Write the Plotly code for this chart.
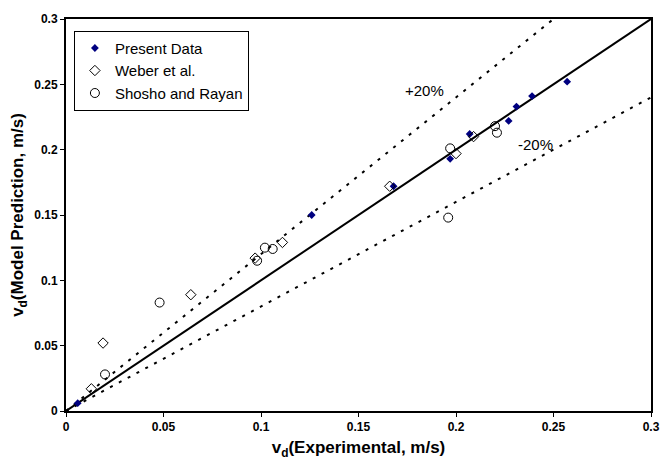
import plotly.graph_objects as go

present_x = [0.006, 0.126, 0.168, 0.197, 0.207, 0.227, 0.231, 0.239, 0.257]
present_y = [0.006, 0.150, 0.172, 0.193, 0.212, 0.222, 0.233, 0.241, 0.252]

weber_x = [0.013, 0.019, 0.064, 0.097, 0.111, 0.166, 0.200, 0.209]
weber_y = [0.017, 0.052, 0.089, 0.117, 0.129, 0.172, 0.197, 0.210]

shosho_x = [0.020, 0.048, 0.098, 0.102, 0.106, 0.197, 0.196, 0.220, 0.221]
shosho_y = [0.028, 0.083, 0.115, 0.125, 0.124, 0.201, 0.148, 0.218, 0.213]

line_x = [0.0, 0.3]
line_y = [0.0, 0.3]
plus_x = [0.0, 0.25]
plus_y = [0.0, 0.30]
minus_x = [0.0, 0.3]
minus_y = [0.0, 0.24]

ticks = [0, 0.05, 0.1, 0.15, 0.2, 0.25, 0.3]
tick_text = ["0", "0.05", "0.1", "0.15", "0.2", "0.25", "0.3"]

FONT = "Arial, Liberation Sans, sans-serif"

fig = go.Figure()
fig.add_trace(go.Scatter(x=line_x, y=line_y, mode="lines",
                         line=dict(color="black", width=2), showlegend=False, hoverinfo="skip"))
fig.add_trace(go.Scatter(x=plus_x, y=plus_y, mode="lines",
                         line=dict(color="black", width=2, dash="3px,7px"), showlegend=False, hoverinfo="skip"))
fig.add_trace(go.Scatter(x=minus_x, y=minus_y, mode="lines",
                         line=dict(color="black", width=2, dash="3px,7px"), showlegend=False, hoverinfo="skip"))

fig.add_trace(go.Scatter(x=present_x, y=present_y, mode="markers", name="Present Data",
                         marker=dict(symbol="diamond", size=6, color="#000080",
                                     line=dict(color="#000080", width=0))))
fig.add_trace(go.Scatter(x=weber_x, y=weber_y, mode="markers", name="Weber et al.",
                         marker=dict(symbol="diamond-open", size=8, color="black",
                                     line=dict(color="black", width=1))))
fig.add_trace(go.Scatter(x=shosho_x, y=shosho_y, mode="markers", name="Shosho and Rayan",
                         marker=dict(symbol="circle-open", size=9, color="black",
                                     line=dict(color="black", width=1))))

fig.add_annotation(x=0.184, y=0.2456, text="+20%", showarrow=False,
                   font=dict(family=FONT, size=15, color="black"))
fig.add_annotation(x=0.241, y=0.204, text="-20%", showarrow=False,
                   font=dict(family=FONT, size=15, color="black"))

axis_common = dict(range=[0, 0.3], tickvals=ticks, ticktext=tick_text,
                   showgrid=False, zeroline=False, showline=True, linecolor="black",
                   linewidth=2, mirror=True, ticks="outside", ticklen=4, tickwidth=1,
                   tickcolor="black", tickfont=dict(family=FONT, size=12, color="black", weight="bold"))

fig.update_layout(
    width=672, height=473,
    margin=dict(l=66, r=12, t=17, b=62),
    paper_bgcolor="white", plot_bgcolor="white",
    font=dict(family=FONT, color="black"),
    xaxis=dict(**axis_common,
               title=dict(text="<b>v<sub>d</sub>(Experimental, m/s)</b>",
                          font=dict(family=FONT, size=17, color="black"), standoff=8)),
    yaxis=dict(**axis_common,
               title=dict(text="<b>v<sub>d</sub>(Model Prediction, m/s)</b>",
                          font=dict(family=FONT, size=17, color="black"), standoff=6)),
    legend=dict(x=0.0135, y=0.97, xanchor="left", yanchor="top",
                bgcolor="white", bordercolor="black", borderwidth=1,
                font=dict(family=FONT, size=15, color="black"),
                tracegroupgap=0, itemwidth=30),
    showlegend=True,
)

fig.write_html("out.html")
